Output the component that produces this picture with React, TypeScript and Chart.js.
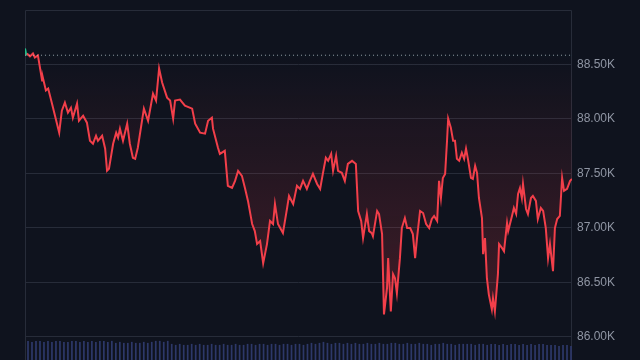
import React, { useEffect, useRef } from "react";
import { Chart, registerables } from "chart.js";

Chart.register(...registerables);

// time (minutes into session) and price samples
const TIMES = [0,3,5,13,21,26,34,45,47,55,61,71,79,90,97,105,113,121,126,137,142,153,163,171,179,187,192,203,211,216,221,232,240,245,250,258,269,276,284,290,297,313,324,337,345,353,361,374,382,390,395,408,421,440,448,461,474,482,492,495,508,513,526,534,545,553,561,571,579,587,598,605,611,619,627,637,645,653,658,666,679,690,695,706,716,724,732,742,750,758,769,777,784,792,798,806,811,819,824,834,842,850,861,871,877,885,890,900,906,913,916,927,932,940,945,953,956,963,969,974,979,987,992,1000,1006,1014,1021,1027,1032,1040,1048,1056,1064,1071,1077,1085,1090,1095,1100,1106,1111,1114,1121,1127,1132,1137,1143,1150,1156,1161,1166,1174,1179,1185,1190,1195,1203,1206,1211,1216,1221,1229,1232,1237,1245,1248,1256,1261,1269,1272,1282,1287,1293,1298,1303,1308,1311,1319,1324,1332,1337,1345,1350,1358,1364,1371,1377,1382,1390,1395,1401,1408,1414,1419,1427,1435,1440];

const PRICES = [88647,88592,88601,88574,88601,88564,88583,88353,88380,88261,88279,88141,88030,87874,88076,88150,88058,88104,88012,88141,87984,88030,87966,87800,87773,87846,87800,87846,87727,87524,87542,87773,87874,87828,87911,87800,87957,87773,87644,87634,87736,88095,87984,88233,88169,88463,88334,88196,88169,88003,88169,88178,88122,88095,87957,87874,87865,87984,88012,87911,87736,87680,87708,87386,87367,87432,87524,87478,87367,87248,87036,86971,86852,86879,86677,86852,87064,87036,87220,87036,86953,87183,87294,87220,87386,87358,87432,87358,87432,87496,87404,87358,87496,87644,87616,87680,87524,87662,87524,87506,87432,87588,87616,87588,87156,87064,86907,87128,86971,86953,86925,87156,87128,86944,86207,86447,86723,86235,86576,86539,86401,86723,86999,87091,86999,86999,86944,86723,86907,87156,87137,87036,86999,87082,87110,87064,87432,87275,87459,87496,87800,88003,87920,87800,87800,87634,87616,87690,87634,87727,87634,87459,87450,87570,87506,87275,87091,86760,86907,86539,86391,86253,86354,86235,86576,86852,86815,86787,87045,86971,87110,87183,87128,87312,87367,87275,87404,87174,87128,87275,87294,87248,87082,87183,87156,86999,86723,86852,86603,86999,87082,87110,87459,87340,87358,87432,87450];

const BASELINE = 88585;

const TICKS = [86000, 86500, 87000, 87500, 88000, 88500];

const VOLUME = [
  21,20,21,21,20,21,20,21,21,20,20,21,21,20,21,20,21,20,21,21,20,21,
  19,20,19,19,20,19,19,20,19,
  20,21,21,20,21,
  18,17,18,17,17,18,17,18,17,17,18,17,17,18,17,17,18,17,17,18,
  18,17,18,18,17,18,18,17,18,18,17,18,18,17,18,
  19,18,19,20,19,18,19,19,18,19,
  18,19,18,18,19,18,18,19,18,18,19,19,18,18,19,18,18,19,18,18,17,18,18,19,18,18,17,18,18,18,
  18,17,18,18,17,18,18,17,18,17,18,18,17,18,17,18,17,18,18,17,
  17,17,16,17,17,16,
];

const BG = "#0f131e";
const GRID = "#272c39";
const RED = "#f23f4a";
const GREEN = "#22c08a";

export default function App() {
  const ref = useRef<HTMLCanvasElement | null>(null);

  useEffect(() => {
    document.body.style.margin = "0";
    document.body.style.background = BG;
    const canvas = ref.current!;
    const pricePoints = TIMES.map((t, i) => ({ x: t, y: PRICES[i] }));
    const framePlugin = {
      id: "frame",
      beforeDatasetsDraw(chart: any) {
        const { ctx, chartArea } = chart;
        ctx.save();
        ctx.strokeStyle = GRID;
        ctx.lineWidth = 1;
        ctx.beginPath();
        ctx.moveTo(chartArea.left + 0.5, chartArea.bottom);
        ctx.lineTo(chartArea.left + 0.5, chartArea.top + 0.5);
        ctx.lineTo(chartArea.right - 0.5, chartArea.top + 0.5);
        ctx.lineTo(chartArea.right - 0.5, chartArea.bottom);
        ctx.stroke();
        ctx.restore();
      },
    };

    const chart = new Chart(canvas, {
      data: {
        labels: VOLUME.map((_, i) => String(i)),
        datasets: [
          {
            type: "line",
            data: pricePoints as any,
            xAxisID: "x",
            yAxisID: "y",
            borderColor: RED,
            borderWidth: 2,
            pointRadius: 0,
            tension: 0,
            order: 1,
            fill: { target: { value: BASELINE }, above: "rgba(34,192,138,0.15)", below: "rgba(242,63,74,0.1)" } as any,
            segment: {
              borderColor: (c: any) =>
                c.p0.parsed.y > BASELINE && c.p1.parsed.y > BASELINE ? GREEN : RED,
            },
          } as any,
          {
            type: "line",
            data: [
              { x: TIMES[0], y: BASELINE },
              { x: TIMES[TIMES.length - 1], y: BASELINE },
            ] as any,
            xAxisID: "x",
            yAxisID: "y",
            borderColor: "rgba(190,195,205,0.75)",
            borderWidth: 1,
            borderDash: [1, 3],
            pointRadius: 0,
            fill: false,
            order: 0,
          } as any,
          {
            type: "bar",
            data: VOLUME,
            xAxisID: "xv",
            yAxisID: "yv",
            backgroundColor: "#2d3869",
            borderWidth: 0,
            barPercentage: 0.85,
            categoryPercentage: 1,
            order: 3,
          } as any,
        ],
      },
      options: {
        animation: false,
        responsive: false,
        maintainAspectRatio: false,
        layout: { padding: { left: 25, top: 10, right: 0, bottom: 0 } },
        plugins: { legend: { display: false }, tooltip: { enabled: false } },
        scales: {
          x: {
            type: "linear",
            min: TIMES[0],
            max: TIMES[TIMES.length - 1],
            display: false,
          },
          xv: { type: "category", display: false, offset: true },
          yv: { type: "linear", display: false, min: 0, max: 350 },
          y: {
            type: "linear",
            position: "right",
            min: 85770,
            max: 89000,
            afterBuildTicks: (s: any) => {
              s.ticks = TICKS.map((v) => ({ value: v }));
            },
            afterFit: (s: any) => {
              s.width = 68;
              s.paddingTop = 0;
              s.paddingBottom = 0;
            },
            grid: { color: GRID, lineWidth: 1, drawTicks: false },
            border: { display: false },
            ticks: {
              color: "#8f95a3",
              padding: 5,
              font: { family: "'Liberation Sans', Arial, sans-serif", size: 12 },
              callback: (v: any) => (Number(v) / 1000).toFixed(2) + "K",
            },
          },
        },
      } as any,
      plugins: [framePlugin],
    });

    const ys = chart.scales.y;
    const g = chart.ctx.createLinearGradient(0, ys.getPixelForValue(BASELINE), 0, ys.getPixelForValue(86200));
    g.addColorStop(0, "rgba(242,63,74,0.0)");
    g.addColorStop(1, "rgba(242,63,74,0.22)");
    (chart.data.datasets[0] as any).fill.below = g;
    chart.update("none");

    return () => chart.destroy();
  }, []);

  return (
    <div style={{ width: 640, height: 360, background: BG, overflow: "hidden" }}>
      <canvas ref={ref} width={640} height={363} style={{ display: "block" }} />
    </div>
  );
}
